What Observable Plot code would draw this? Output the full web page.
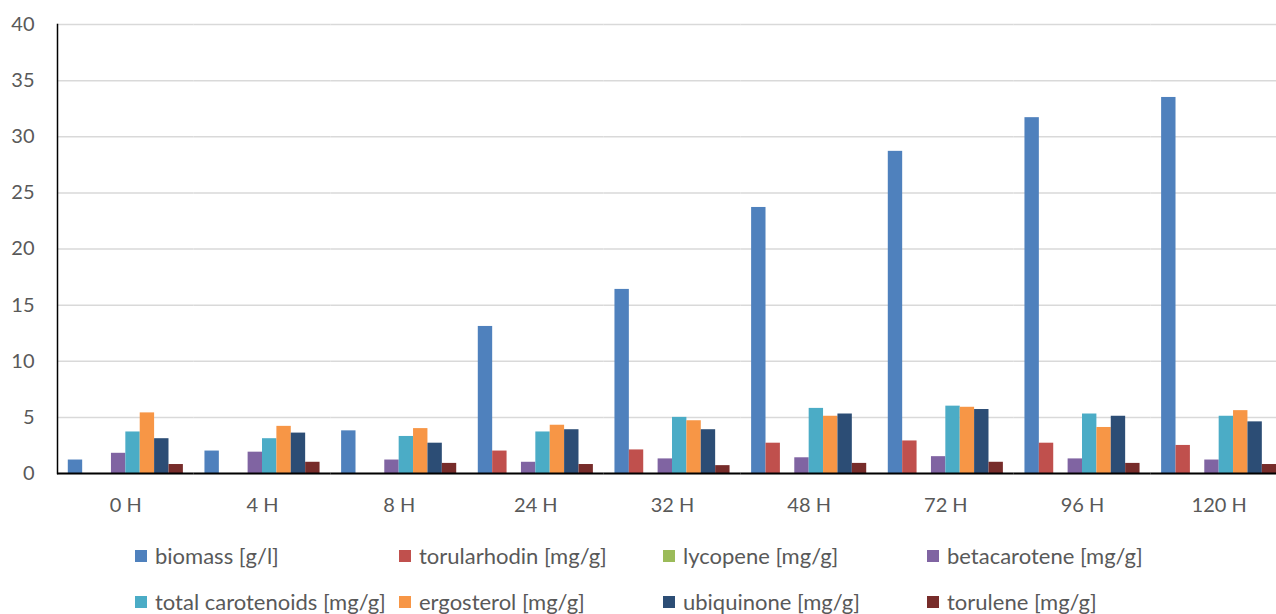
<!DOCTYPE html>
<html>
<head>
<meta charset="utf-8">
<script src="https://cdn.jsdelivr.net/npm/d3@7"></script>
<script src="https://cdn.jsdelivr.net/npm/@observablehq/plot@0.6"></script>
<style>
  html, body { margin: 0; padding: 0; background: #fff; overflow: hidden; }
  #chart { width: 1276px; height: 614px; position: relative; font-family: Lato, sans-serif; color: #595959; }
  .legend { display: grid; grid-template-columns: repeat(4, 264px); grid-auto-rows: 46px; padding-left: 135px; margin-top: 3px; }
  .legend-item { display: flex; align-items: center; font-size: 22px; line-height: 24px; white-space: nowrap; }
  .legend-item .sw { width: 12px; height: 12px; margin-right: 8px; flex: none; }
</style>
</head>
<body>
<div id="chart"></div>
<script>
// Sampling times
const hours = ["0 H", "4 H", "8 H", "24 H", "32 H", "48 H", "72 H", "96 H", "120 H"];

// Measured values per sampling time
const biomass          = [1.2, 2.0, 3.8, 13.1, 16.4, 23.7, 28.7, 31.7, 33.5];
const torularhodin     = [0, 0, 0, 2.0, 2.1, 2.7, 2.9, 2.7, 2.5];
const lycopene         = [0, 0, 0, 0, 0, 0, 0, 0, 0];
const betacarotene     = [1.8, 1.9, 1.2, 1.0, 1.3, 1.4, 1.5, 1.3, 1.2];
const totalCarotenoids = [3.7, 3.1, 3.3, 3.7, 5.0, 5.8, 6.0, 5.3, 5.1];
const ergosterol       = [5.4, 4.2, 4.0, 4.3, 4.7, 5.1, 5.9, 4.1, 5.6];
const ubiquinone       = [3.1, 3.6, 2.7, 3.9, 3.9, 5.3, 5.7, 5.1, 4.6];
const torulene         = [0.8, 1.0, 0.9, 0.8, 0.7, 0.9, 1.0, 0.9, 0.8];

// Series names and colours
const seriesNames = [
  "biomass [g/l]", "torularhodin [mg/g]", "lycopene [mg/g]", "betacarotene [mg/g]",
  "total carotenoids [mg/g]", "ergosterol [mg/g]", "ubiquinone [mg/g]", "torulene [mg/g]"
];
const seriesValues = [biomass, torularhodin, lycopene, betacarotene, totalCarotenoids, ergosterol, ubiquinone, torulene];
const seriesColors = ["#4F81BD", "#C0504D", "#9BBB59", "#8064A2", "#4BACC6", "#F79646", "#2C4D75", "#772C2A"];

// Y axis ticks
const yTicks = [0, 5, 10, 15, 20, 25, 30, 35, 40];

// Long-format table for the grouped bars
const rows = hours.flatMap((h, i) =>
  seriesNames.map((name, k) => ({hour: h, series: name, value: seriesValues[k][i]}))
);

const chart = Plot.plot({
  width: 1276,
  height: 530,
  marginLeft: 57,
  marginRight: -11,
  marginTop: 24,
  marginBottom: 57,
  style: {fontFamily: "Lato, sans-serif", fontSize: "20px", color: "#595959", background: "transparent"},
  fx: {domain: hours, padding: 0, round: false, label: null},
  x: {domain: seriesNames, paddingInner: 0, paddingOuter: 0.75, round: false, axis: null},
  y: {domain: [0, 40], label: null},
  color: {domain: seriesNames, range: seriesColors},
  marks: [
    Plot.gridY({ticks: yTicks, stroke: "#d9d9d9", strokeOpacity: 1, strokeWidth: 1.5}),
    Plot.barY(rows, {fx: "hour", x: "series", y: "value", fill: "series"}),
    Plot.ruleY([0], {stroke: "#000", strokeWidth: 2}),
    Plot.frame({anchor: "left", facetAnchor: "left", stroke: "#000", strokeWidth: 1.5}),
    Plot.axisY({ticks: yTicks, tickSize: 0, tickPadding: 23, label: null, fontSize: 20}),
    Plot.axisFx({anchor: "bottom", tickSize: 0, tickPadding: 24, label: null, fontSize: 20})
  ]
});

const root = document.getElementById("chart");
root.appendChild(chart);

// Legend: two rows of four entries
const legend = document.createElement("div");
legend.className = "legend";
seriesNames.forEach((name, k) => {
  const item = document.createElement("div");
  item.className = "legend-item";
  const sw = document.createElement("span");
  sw.className = "sw";
  sw.style.background = seriesColors[k];
  const label = document.createElement("span");
  label.textContent = name;
  item.appendChild(sw);
  item.appendChild(label);
  legend.appendChild(item);
});
root.appendChild(legend);
</script>
</body>
</html>
